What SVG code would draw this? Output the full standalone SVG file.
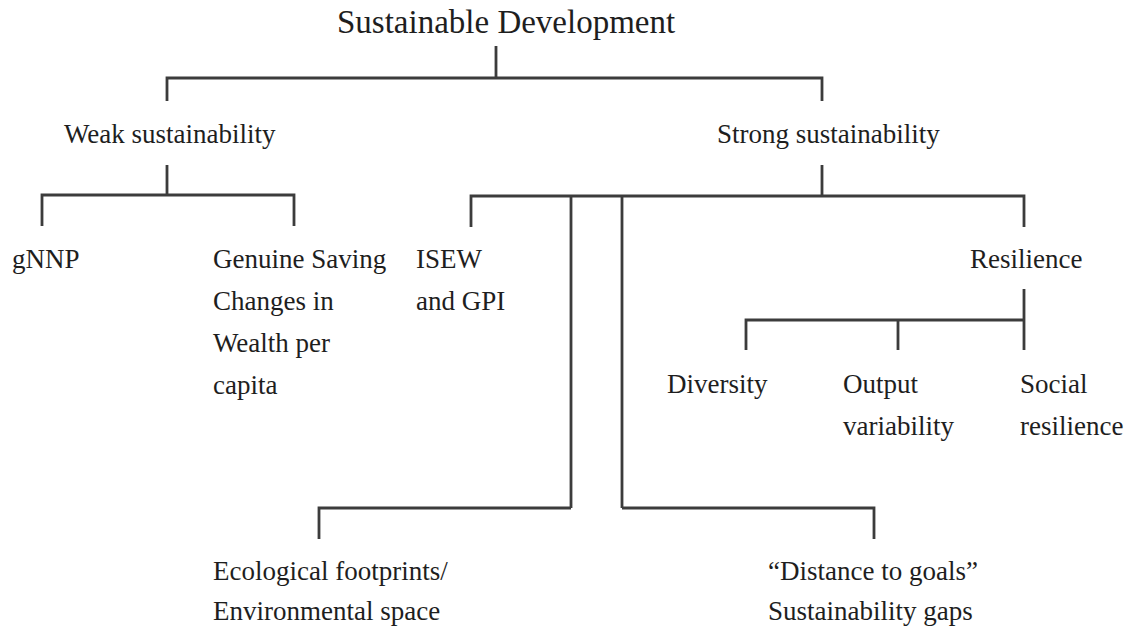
<svg xmlns="http://www.w3.org/2000/svg" width="1131" height="631" viewBox="0 0 1131 631">
  <style>
    .bg { fill: #ffffff; }
    .lbl { font-family: "Liberation Serif", "Times New Roman", serif; font-size: 27px; fill: #1e1e1e; }
    .title { font-family: "Liberation Serif", "Times New Roman", serif; font-size: 33px; fill: #1e1e1e; }
    .wire { fill: none; stroke: #3c3c3c; stroke-width: 2.8; stroke-linecap: butt; stroke-linejoin: miter; }
  </style>
  <rect class="bg" x="0" y="0" width="1131" height="631"/>

  <!-- tree connectors -->
  <g id="connectors">
    <!-- root to the two branches -->
    <path class="wire" d="M496 46 V78 M167 101 V78 H822 V101"/>
    <!-- weak branch -->
    <path class="wire" d="M167 165 V195 M42 226 V195 H294 V226"/>
    <!-- strong branch -->
    <path class="wire" d="M822 165 V196 M471 227 V196 H1024 V227 M571 196 V508 M622 196 V508"/>
    <!-- resilience -->
    <path class="wire" d="M1024 289 V350 M746 350 V320 H1024 M898 320 V350"/>
    <!-- lower indicators -->
    <path class="wire" d="M571 508 H319 V539 M622 508 H874 V539"/>
  </g>

  <g id="sustainable-development">
    <text class="title" x="337" y="33">Sustainable Development</text>
  </g>
  <g id="weak-sustainability">
    <text class="lbl" x="64" y="143">Weak sustainability</text>
  </g>
  <g id="strong-sustainability">
    <text class="lbl" x="717" y="143">Strong sustainability</text>
  </g>
  <g id="gnnp">
    <text class="lbl" x="12" y="268">gNNP</text>
  </g>
  <g id="genuine-saving">
    <text class="lbl" x="213" y="268">Genuine Saving</text>
    <text class="lbl" x="213" y="310">Changes in</text>
    <text class="lbl" x="213" y="352">Wealth per</text>
    <text class="lbl" x="213" y="394">capita</text>
  </g>
  <g id="isew-gpi">
    <text class="lbl" x="416" y="268">ISEW</text>
    <text class="lbl" x="416" y="310">and GPI</text>
  </g>
  <g id="resilience">
    <text class="lbl" x="970" y="268">Resilience</text>
  </g>
  <g id="diversity">
    <text class="lbl" x="667" y="393">Diversity</text>
  </g>
  <g id="output-variability">
    <text class="lbl" x="843" y="393">Output</text>
    <text class="lbl" x="843" y="435">variability</text>
  </g>
  <g id="social-resilience">
    <text class="lbl" x="1020" y="393">Social</text>
    <text class="lbl" x="1020" y="435">resilience</text>
  </g>
  <g id="ecological-footprints">
    <text class="lbl" x="213" y="580">Ecological footprints/</text>
    <text class="lbl" x="213" y="620">Environmental space</text>
  </g>
  <g id="distance-to-goals">
    <text class="lbl" x="768" y="580">“Distance to goals”</text>
    <text class="lbl" x="768" y="620">Sustainability gaps</text>
  </g>
</svg>
